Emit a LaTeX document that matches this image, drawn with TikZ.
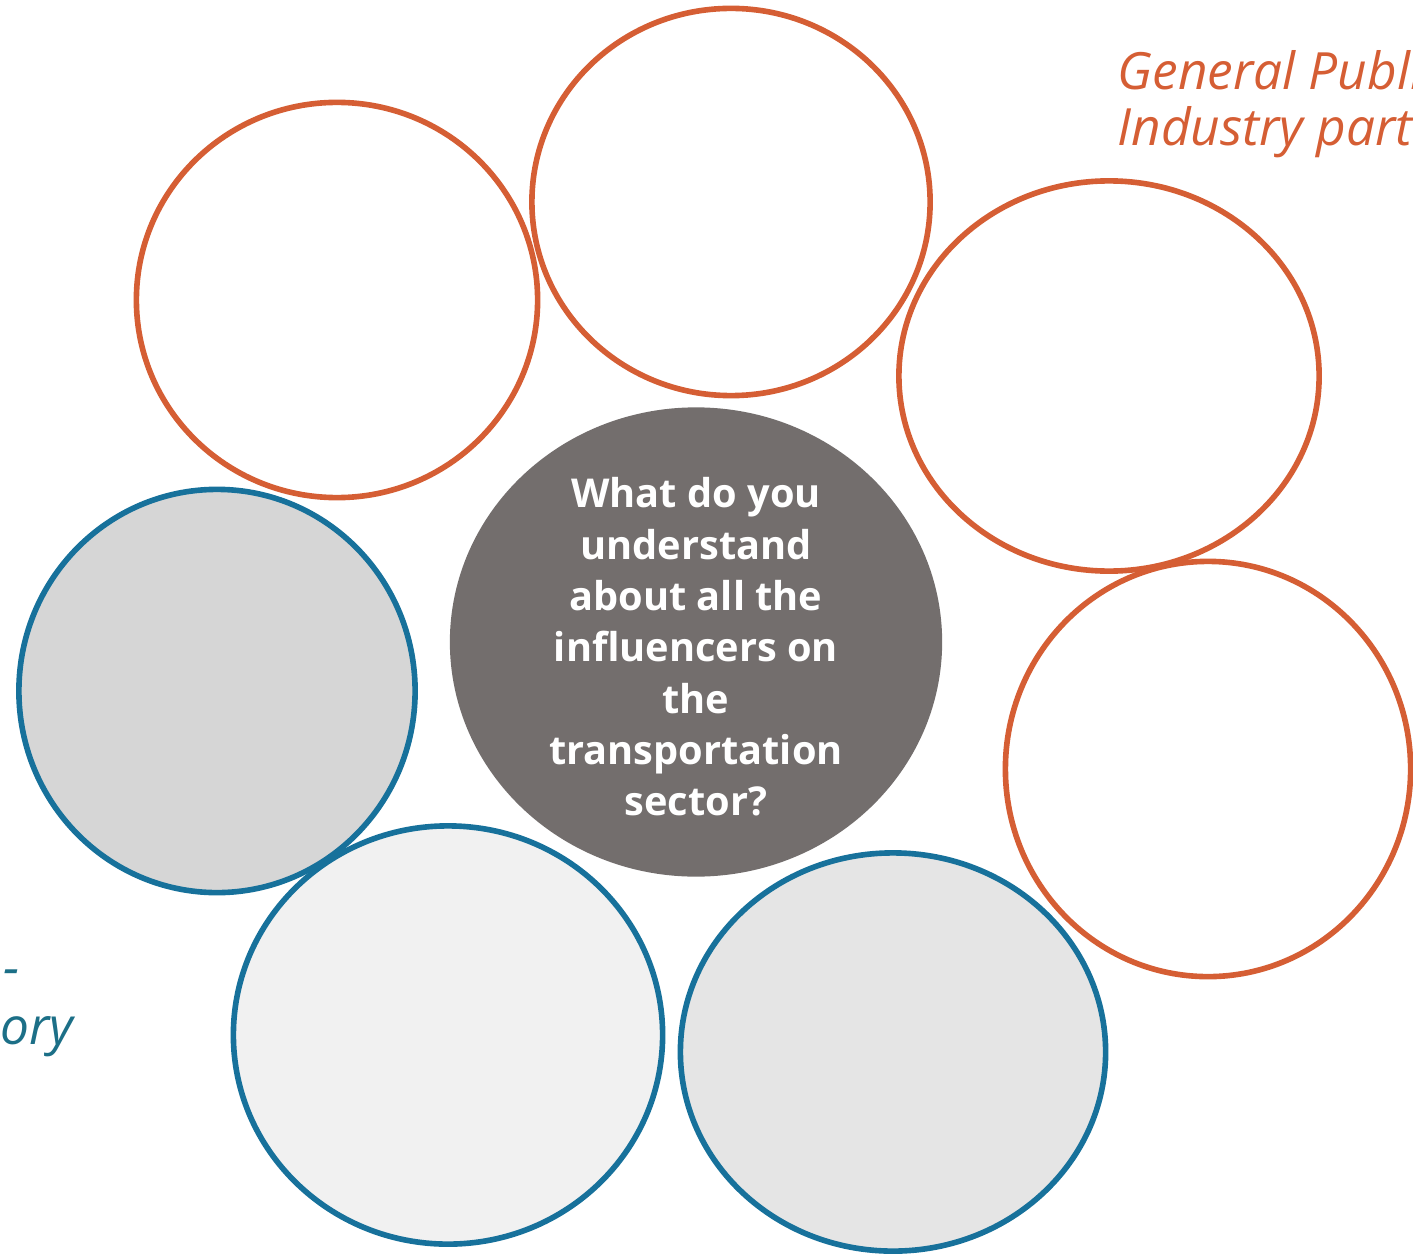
\documentclass[tikz,border=0pt]{standalone}
\usepackage{fontspec}
\setmainfont{Open Sans}
\usetikzlibrary{shapes.geometric, positioning}
\definecolor{rust}{HTML}{D55E34}
\definecolor{deepblue}{HTML}{17719B}
\definecolor{tealtext}{HTML}{1C6F87}
\definecolor{stone}{HTML}{736E6D}
\tikzset{
  outer/.style={
    ellipse, inner sep=0pt, draw=rust, line width=1.6pt
  },
  inner/.style={
    ellipse, inner sep=0pt, draw=deepblue, line width=1.6pt
  },
  hub/.style={
    ellipse, inner sep=0pt, fill=stone, text=white, align=center,
    font=\bfseries\fontsize{11.3}{14.6}\selectfont
  },
  tag/.style={
    inner sep=0pt, align=left, font=\itshape\fontsize{14.6}{15.8}\selectfont
  }
}

\begin{document}
\begin{tikzpicture}[x=0.01cm, y=-0.01cm]
\useasboundingbox (0,0) rectangle (1413,1255);
\clip (0,0) rectangle (1413,1255);
% orange ring
\node[outer, minimum width=4.01cm, minimum height=3.95cm] (ring1) at (337,300) {};
\node[outer, minimum width=3.98cm, minimum height=3.87cm] (ring2) at (731,202) {};
\node[outer, minimum width=4.20cm, minimum height=3.90cm] (ring3) at (1109,376) {};
\node[outer, minimum width=4.05cm, minimum height=4.15cm] (ring4) at (1208,769) {};
% centre question
\node[hub, minimum width=4.92cm, minimum height=4.69cm] (question) at (696,642) {};
\node[hub, fill=none] (asked) at (696,647)
  {What do you\\understand\\about all the\\influencers on\\the\\transportation\\sector?};
% blue ring
\node[inner, fill=black!16, minimum width=3.96cm, minimum height=4.03cm] (ring6) at (217,691) {};
\node[inner, fill=black!5.5, minimum width=4.29cm, minimum height=4.18cm] (ring7) at (448,1035) {};
\node[inner, fill=black!10, minimum width=4.25cm, minimum height=3.98cm] (ring8) at (893,1052) {};
% group labels
\node[tag, text=rust, anchor=north west] (public) at (1117,50)
  {General Publi\\Industry part};
\node[tag, text=tealtext, anchor=east] (dash) at (20,978) {-};
\node[tag, text=tealtext, anchor=east] (regul) at (74,1037) {ory};
\end{tikzpicture}
\end{document}
